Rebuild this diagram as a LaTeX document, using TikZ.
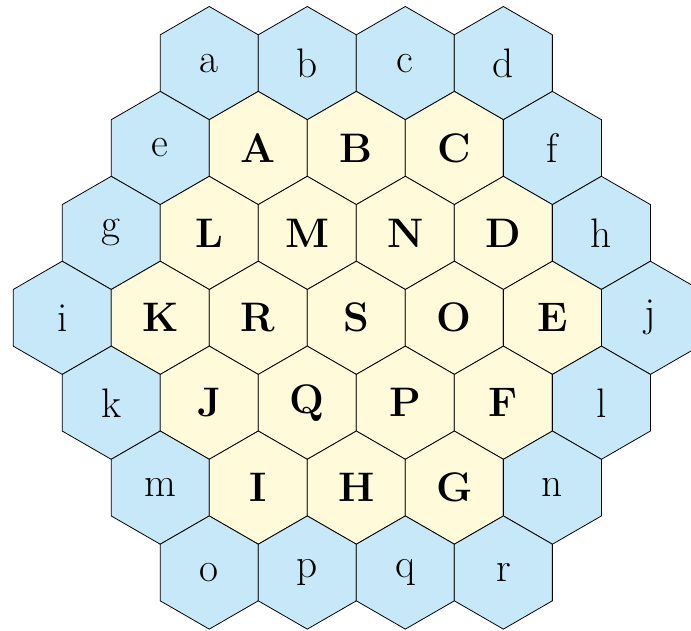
\documentclass[tikz,border=0pt]{standalone}
\usetikzlibrary{shapes.geometric}
\definecolor{hexblue}{RGB}{199,232,248}
\definecolor{hexyellow}{RGB}{255,250,217}
\begin{document}
\begin{tikzpicture}[x=0.866cm, y=1.5cm,
    hex/.style={regular polygon, regular polygon sides=6, shape border rotate=30,
      minimum size=2cm, inner sep=0pt, outer sep=0pt, draw=black, font=\huge},
    outerhex/.style={hex, fill=hexblue},
    innerhex/.style={hex, fill=hexyellow, font=\huge\bfseries}]
  \useasboundingbox (-6.295cm,-5.516cm) rectangle (5.913cm,5.615cm);

  % --- top row ---
  \node[outerhex] (a) at (-3, 3) {a};
  \node[outerhex] (b) at (-1, 3) {b};
  \node[outerhex] (c) at ( 1, 3) {c};
  \node[outerhex] (d) at ( 3, 3) {d};

  % --- second row ---
  \node[outerhex] (e) at (-4, 2) {e};
  \node[innerhex] (A) at (-2, 2) {A};
  \node[innerhex] (B) at ( 0, 2) {B};
  \node[innerhex] (C) at ( 2, 2) {C};
  \node[outerhex] (f) at ( 4, 2) {f};

  % --- third row ---
  \node[outerhex] (g) at (-5, 1) {g};
  \node[innerhex] (L) at (-3, 1) {L};
  \node[innerhex] (M) at (-1, 1) {M};
  \node[innerhex] (N) at ( 1, 1) {N};
  \node[innerhex] (D) at ( 3, 1) {D};
  \node[outerhex] (h) at ( 5, 1) {h};

  % --- middle row ---
  \node[outerhex] (i) at (-6, 0) {i};
  \node[innerhex] (K) at (-4, 0) {K};
  \node[innerhex] (R) at (-2, 0) {R};
  \node[innerhex] (S) at ( 0, 0) {S};
  \node[innerhex] (O) at ( 2, 0) {O};
  \node[innerhex] (E) at ( 4, 0) {E};
  \node[outerhex] (j) at ( 6, 0) {j};

  % --- fifth row ---
  \node[outerhex] (k) at (-5,-1) {k};
  \node[innerhex] (J) at (-3,-1) {J};
  \node[innerhex] (Q) at (-1,-1) {Q};
  \node[innerhex] (P) at ( 1,-1) {P};
  \node[innerhex] (F) at ( 3,-1) {F};
  \node[outerhex] (l) at ( 5,-1) {l};

  % --- sixth row ---
  \node[outerhex] (m) at (-4,-2) {m};
  \node[innerhex] (I) at (-2,-2) {I};
  \node[innerhex] (H) at ( 0,-2) {H};
  \node[innerhex] (G) at ( 2,-2) {G};
  \node[outerhex] (n) at ( 4,-2) {n};

  % --- bottom row ---
  \node[outerhex] (o) at (-3,-3) {o};
  \node[outerhex] (p) at (-1,-3) {p};
  \node[outerhex] (q) at ( 1,-3) {q};
  \node[outerhex] (r) at ( 3,-3) {r};
\end{tikzpicture}
\end{document}
